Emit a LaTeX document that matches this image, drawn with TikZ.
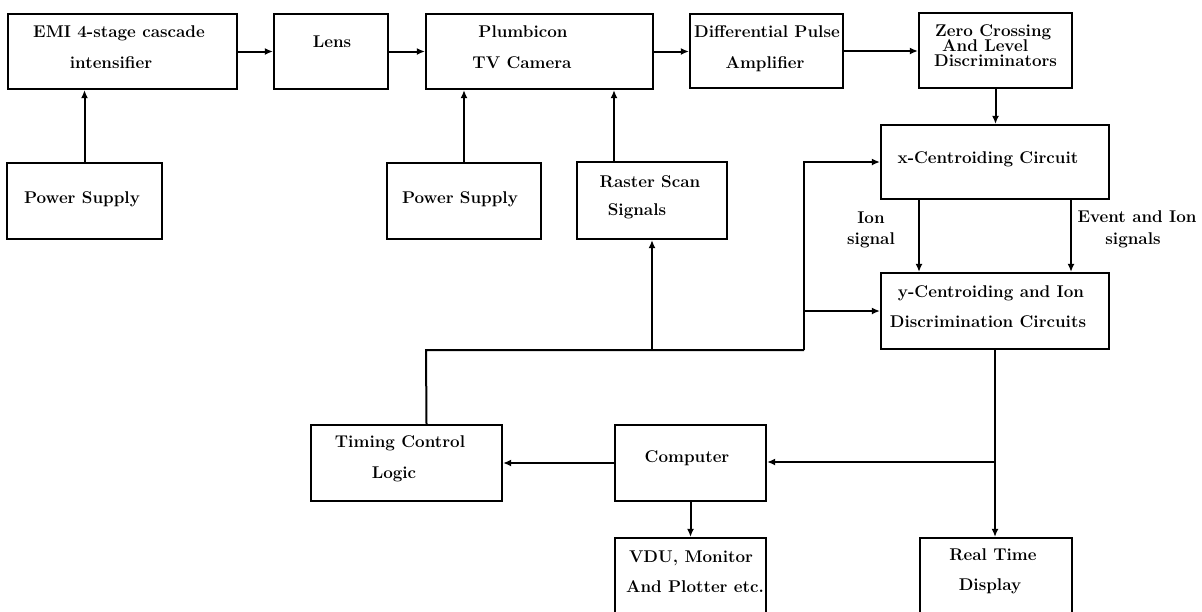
\documentclass[tikz,border=0pt]{standalone}
\usetikzlibrary{arrows.meta}
\newcommand\mkbox[5]{\node[box, minimum width={(#4-#2)*1pt}, minimum height={(#5-#3)*1pt}] (#1) at ({(#2+#4)/2},{(#3+#5)/2}) {};}
\begin{document}
\begin{tikzpicture}[x=1pt,y=-1pt,
  box/.style={draw, line width=2.2pt, inner sep=0pt, rectangle},
  wire/.style={line width=2pt},
  arr/.style={line width=2pt, -{Latex[length=8pt,width=7pt]}},
  txt/.style={font=\fontsize{17}{18}\selectfont\bfseries, inner sep=0pt, anchor=base},
  txtl/.style={txt, anchor=base west}]
\useasboundingbox (0,0) rectangle (1202,611);
\clip (0,0) rectangle (1202,611);
% boxes
\mkbox{emi}{8}{14}{237}{89}
\mkbox{lens}{274}{14}{388}{89}
\mkbox{plumb}{426}{14}{653}{89}
\mkbox{diff}{690}{14}{843}{88}
\mkbox{zero}{919}{13}{1072}{88}
\mkbox{psa}{7}{163}{162}{239}
\mkbox{psb}{387}{163}{541}{239}
\mkbox{raster}{577}{162}{727}{239}
\mkbox{xc}{881}{125}{1109}{199}
\mkbox{yc}{881}{273}{1109}{349}
\mkbox{timing}{311}{425}{502}{501}
\mkbox{comp}{615}{425}{766}{501}
\mkbox{vdu}{615}{538}{766}{630}
\mkbox{rtd}{920}{538}{1072}{630}
% texts
\node[txt] (t1) at (119,37) {EMI 4-stage cascade};
\node[txt] (t2) at (111,68) {intensifier};
\node[txt] (t3) at (332,47) {Lens};
\node[txt] (t4) at (523,37) {Plumbicon};
\node[txt] (t5) at (522,68) {TV Camera};
\node[txt] (t6) at (767,37) {Differential Pulse};
\node[txt] (t7) at (765,68) {Amplifier};
\node[txtl] (t8) at (935,36) {Zero Crossing};
\node[txtl] (t9) at (942,51) {And Level};
\node[txtl] (t10) at (934,66) {Discriminators};
\node[txt] (t11) at (82,203) {Power Supply};
\node[txt] (t12) at (460,203) {Power Supply};
\node[txt] (t13) at (650,187) {Raster Scan};
\node[txt] (t14) at (637,215) {Signals};
\node[txt] (t15) at (988,163) {x-Centroiding Circuit};
\node[txt] (t16) at (871,223) {Ion};
\node[txt] (t17) at (871,244) {signal};
\node[txt] (t18) at (1137,222) {Event and Ion};
\node[txt] (t19) at (1133,244) {signals};
\node[txt] (t20) at (991,297) {y-Centroiding and Ion};
\node[txt] (t21) at (988,327) {Discrimination Circuits};
\node[txt] (t22) at (400,447) {Timing Control};
\node[txt] (t23) at (394,478) {Logic};
\node[txt] (t24) at (687,462) {Computer};
\node[txt] (t25) at (691,562) {VDU, Monitor};
\node[txt] (t26) at (695,592) {And Plotter etc.};
\node[txt] (t27) at (993,560) {Real Time};
\node[txt] (t28) at (990,590) {Display};
% junctions
\coordinate (j1) at (995,462);
\coordinate (j2) at (426,350);
\coordinate (j3) at (804,350);
% connectors
\draw[arr] (emi.east) -- (emi.east -| lens.west);
\draw[arr] (lens.east) -- (lens.east -| plumb.west);
\draw[arr] (plumb.east) -- (plumb.east -| diff.west);
\draw[arr] (diff.east) -- (diff.east -| zero.west);
\draw[arr] (zero.south) -- (zero.south |- xc.north);
\draw[arr] (psa.north) -- (psa.north |- emi.south);
\draw[arr] (psb.north) -- (psb.north |- plumb.south);
\draw[arr] ([xshift=-38pt]raster.north) -- ([xshift=-38pt]raster.north |- plumb.south);
\draw[arr] ([xshift=-76pt]xc.south) -- ([xshift=-76pt]xc.south |- yc.north);
\draw[arr] ([xshift=76pt]xc.south) -- ([xshift=76pt]xc.south |- yc.north);
\draw[wire] (yc.south) -- (j1);
\draw[arr] (j1) -- (j1 |- rtd.north);
\draw[arr] (j1) -- (j1 -| comp.east);
\draw[arr] (comp.west) -- (comp.west -| timing.east);
\draw[arr] (comp.south) -- (comp.south |- vdu.north);
\draw[wire] ([xshift=20pt]timing.north) -- (j2) -- (j3);
\draw[arr] (j2 -| raster.south) -- (raster.south);
\draw[arr] (j3) |- (xc.west);
\draw[arr] (j3 |- yc.west) -- (yc.west);
\end{tikzpicture}
\end{document}
